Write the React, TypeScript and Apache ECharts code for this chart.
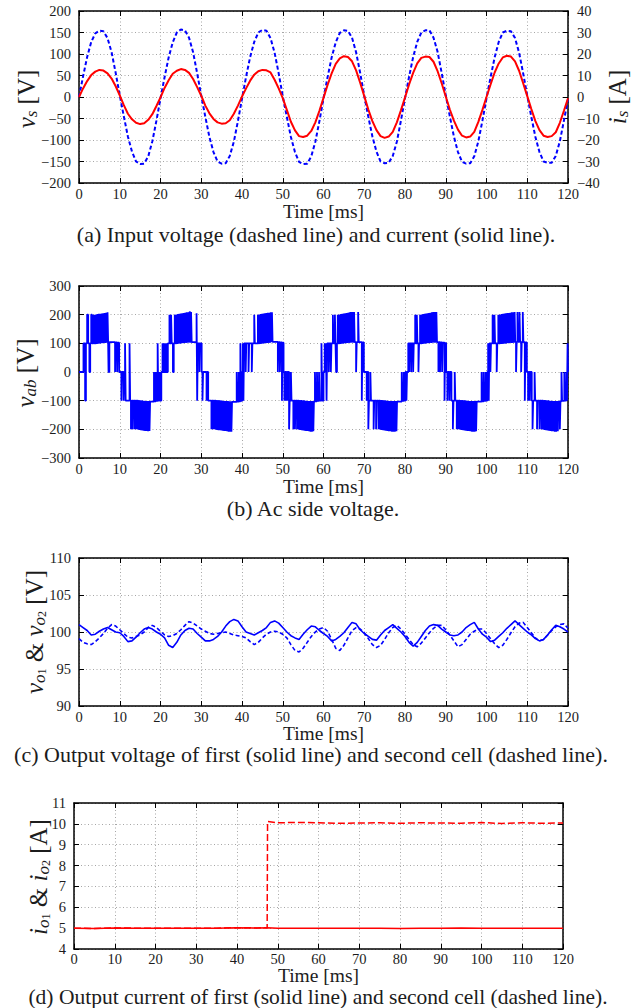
import React, { useEffect, useRef } from 'react';
import * as echarts from 'echarts';

const FONT = '"Liberation Serif", "Times New Roman", Times, serif';
const INK = '#1c1c1c';
const BLUE = '#0000ff';
const RED = '#ff0000';

// ---------- (a) input voltage [V] and current [A], sampled every 1 ms ----------
const timeA = Array.from({ length: 121 }, (_, i) => i);
const vsVolt = [
  0, 48, 93, 128, 148, 154, 153, 137, 104, 56, 4, -45, -92, -127, -150, -156, -155, -138, -103, -55,
  -3, 46, 92, 127, 150, 157, 155, 138, 104, 55, 3, -46, -93, -128, -150, -155, -154, -137, -104, -56,
  -4, 47, 93, 128, 150, 156, 154, 137, 103, 55, 2, -46, -93, -128, -151, -156, -155, -138, -104, -56,
  -3, 46, 92, 127, 149, 155, 154, 138, 104, 56, 3, -46, -92, -127, -150, -154, -153, -137, -104, -55,
  -3, 47, 93, 128, 150, 155, 155, 138, 105, 56, 4, -45, -92, -128, -151, -155, -154, -138, -103, -55,
  -3, 46, 92, 128, 150, 154, 153, 137, 103, 55, 3, -46, -93, -128, -150, -153, -153, -137, -103, -55,
  -5,
];
const isAmp = [
  0, 4.0, 7.4, 10.2, 11.8, 12.6, 12.3, 11.0, 8.6, 5.0, 0.8, -3.8, -7.8, -10.4, -12.0, -12.6, -12.2, -10.6, -8.0, -4.2,
  -0.2, 4.2, 7.8, 10.8, 12.2, 13.0, 12.6, 11.2, 8.4, 4.6, 0.6, -4.0, -7.6, -10.2, -11.8, -12.4, -12.2, -10.8, -7.8, -4.0,
  0.2, 4.0, 7.6, 10.4, 12.0, 12.6, 12.4, 11.4, 8.0, 4.0, -0.5, -6.0, -11.5, -15.5, -18.2, -18.6, -18.0, -15.8, -11.8, -6.4,
  -0.4, 5.6, 11.0, 15.4, 18.0, 19.0, 18.6, 16.6, 12.4, 6.6, 0.4, -5.8, -11.2, -15.4, -18.2, -19.0, -18.4, -16.2, -11.8, -6.2,
  -0.2, 5.8, 11.2, 15.6, 18.2, 18.8, 18.6, 16.4, 12.0, 6.4, 0.2, -5.8, -11.0, -15.2, -18.0, -18.8, -18.4, -16.2, -11.6, -6.0,
  0, 5.8, 11.4, 15.6, 18.4, 19.2, 18.8, 16.6, 12.2, 6.4, 0.4, -5.6, -11.2, -15.4, -18.0, -18.6, -18.2, -16.4, -12.0, -6.4,
  -0.6,
];

// ---------- (b) ac side voltage: switching instants [ms, V] (value holds until next instant) ----------
const vabHalf1 = [[0,0],[1.1,100],[1.5,-100],[1.7,100],[2.0,200],[2.25,100],[2.55,0],[2.75,100],[3.0,200],[3.2,100],[3.45,200],[3.6,100],[3.85,200],[4.0,100],[4.2,201],[4.35,101],[4.55,202],[4.7,102],[4.9,203],[5.05,102],[5.25,203],[5.4,103],[5.6,204],[5.75,103],[5.95,205],[6.1,104],[6.3,206],[6.45,104],[6.65,207],[6.8,105],[7.0,208],[7.15,105],[7.25,0],[7.45,104],[8.85,0],[9.0,103],[9.35,0],[9.5,102],[9.85,0]];
const vabHalf2 = [[10.4,-100],[10.55,0],[10.95,-100],[11.1,0],[11.3,100],[11.45,-100],[12.4,100],[12.55,-100],[12.75,-200],[12.9,-100],[13.2,-200],[13.35,-100],[13.7,-200],[13.85,-100],[14.15,-200],[14.3,-100],[14.5,-201],[14.65,-101],[14.85,-202],[15.0,-102],[15.2,-203],[15.35,-102],[15.55,-204],[15.7,-103],[15.9,-205],[16.05,-103],[16.25,-206],[16.4,-104],[16.6,-206],[16.75,-104],[16.95,-207],[17.1,-104],[17.3,-206],[17.45,-103],[18.4,0],[18.55,-102],[18.85,0],[19.0,-101],[19.3,100],[19.45,-100],[19.75,0],[19.9,-100],[20.2,0]];
const vabHalf3 = [[20.5,100],[20.65,0],[20.9,100],[21.05,0],[21.35,100],[21.5,0],[21.8,100],[22.2,200],[22.35,100],[22.6,200],[22.75,100],[23.05,0],[23.25,100],[23.5,200],[23.65,100],[23.9,201],[24.05,101],[24.3,202],[24.45,102],[24.65,203],[24.8,102],[25.0,204],[25.15,103],[25.35,205],[25.5,103],[25.7,206],[25.85,104],[26.05,207],[26.2,104],[26.4,208],[26.55,105],[26.75,208],[26.9,105],[27.1,209],[27.3,105],[27.5,209],[27.65,104],[28.85,205],[29.0,-100],[29.15,100],[29.55,0],[29.7,100],[30.1,0]];
const vabHalf4 = [[30.3,-100],[30.45,0],[31.3,-100],[31.45,0],[31.7,-100],[32.5,-200],[32.65,-100],[32.85,-200],[33.0,-100],[33.2,-200],[33.35,-100],[33.55,-201],[33.7,-101],[33.9,-202],[34.05,-101],[34.25,-203],[34.4,-102],[34.6,-203],[34.75,-102],[34.95,-204],[35.1,-103],[35.3,-205],[35.45,-103],[35.65,-206],[35.8,-104],[36.0,-206],[36.15,-104],[36.35,-207],[36.5,-104],[36.7,-208],[36.85,-105],[37.05,-208],[37.2,-105],[37.4,-208],[37.55,-104],[38.7,0],[38.85,-103],[39.2,0],[39.35,-102],[39.6,100],[39.75,-101],[40.0,0]];
const vabHalf5 = [[40.2,100],[40.35,-100],[40.5,100],[40.9,0],[41.05,100],[41.6,0],[41.75,100],[42.4,0],[42.55,100],[43.0,200],[43.15,100],[43.9,200],[44.05,100],[44.25,201],[44.4,101],[44.6,202],[44.75,102],[44.95,203],[45.1,102],[45.3,204],[45.45,103],[45.65,205],[45.8,103],[46.0,206],[46.15,104],[46.35,207],[46.5,104],[46.7,207],[46.85,105],[47.05,208],[47.2,105],[47.35,208],[47.5,105],[48.8,0],[48.95,104],[49.3,0],[49.45,103],[49.8,-100],[49.95,102],[50.2,0]];
const vabHalf6 = [[50.4,-100],[50.55,0],[50.8,-100],[50.95,0],[51.2,-100],[51.35,0],[51.55,-200],[51.7,-100],[52.0,0],[52.15,-100],[52.6,-200],[52.75,-100],[53.0,-200],[53.15,-100],[53.5,-200],[53.65,-100],[53.9,-201],[54.05,-101],[54.3,-202],[54.45,-101],[54.7,-203],[54.85,-102],[55.05,-204],[55.2,-102],[55.4,-205],[55.55,-103],[55.75,-206],[55.9,-103],[56.1,-206],[56.25,-104],[56.45,-207],[56.6,-104],[56.8,-208],[56.95,-104],[57.15,-208],[57.3,-104],[57.5,-207],[57.65,-103],[57.9,0],[58.05,-102],[58.4,0],[58.55,-101],[58.9,0],[59.05,-100],[59.5,100],[59.65,-100],[60.0,0]];
const vabHalf7 = [[60.3,100],[60.45,0],[60.6,100],[60.75,-100],[60.9,100],[61.3,0],[61.45,100],[61.8,0],[61.95,100],[62.3,200],[62.45,100],[62.8,200],[62.95,100],[63.1,0],[63.3,100],[63.5,200],[63.65,100],[63.9,201],[64.05,101],[64.3,202],[64.45,102],[64.65,203],[64.8,102],[65.0,204],[65.15,103],[65.35,205],[65.5,103],[65.7,206],[65.85,104],[66.05,207],[66.2,104],[66.4,208],[66.55,105],[66.75,209],[66.9,105],[67.1,209],[67.25,105],[67.5,209],[67.65,104],[68.0,0],[68.15,104],[68.5,209],[68.65,104],[69.4,-100],[69.55,103],[69.9,0]];
const vabHalf8 = [[70.6,-100],[70.75,0],[71.0,-200],[71.15,-100],[71.5,0],[71.65,-100],[72.3,-200],[72.45,-100],[72.9,-200],[73.05,-100],[73.5,-200],[73.65,-100],[73.9,-201],[74.05,-101],[74.3,-202],[74.45,-101],[74.65,-203],[74.8,-102],[75.0,-204],[75.15,-102],[75.35,-205],[75.5,-103],[75.7,-206],[75.85,-103],[76.05,-207],[76.2,-104],[76.4,-207],[76.55,-104],[76.75,-208],[76.9,-104],[77.1,-208],[77.25,-104],[77.5,-208],[77.65,-104],[77.9,-207],[78.05,-103],[79.2,0],[79.35,-101],[79.7,0],[79.85,-100],[80.1,0]];
const vabHalf9 = [[80.35,-100],[80.5,0],[80.8,100],[81.0,0],[81.15,100],[81.5,0],[81.65,100],[82.0,0],[82.15,100],[82.5,200],[82.65,100],[82.9,200],[83.05,100],[83.3,0],[83.45,100],[83.7,200],[83.85,100],[84.1,201],[84.25,101],[84.5,202],[84.65,102],[84.85,203],[85.0,102],[85.2,204],[85.35,103],[85.55,205],[85.7,103],[85.9,206],[86.05,104],[86.25,207],[86.4,104],[86.6,208],[86.75,105],[86.95,209],[87.1,105],[87.3,209],[87.45,105],[87.7,209],[87.85,104],[88.2,0],[88.35,104],[88.6,0],[88.75,103],[89.1,0],[89.25,102],[89.7,-100],[89.85,101],[90.1,0]];
const vabHalf10 = [[90.4,-100],[90.55,0],[90.9,-100],[91.05,0],[91.4,-100],[91.75,-200],[91.9,-100],[92.2,0],[92.35,-100],[92.7,-200],[92.85,-100],[93.1,-200],[93.25,-100],[93.5,-201],[93.65,-101],[93.9,-202],[94.05,-101],[94.3,-203],[94.45,-102],[94.65,-204],[94.8,-102],[95.0,-205],[95.15,-103],[95.35,-206],[95.5,-103],[95.7,-206],[95.85,-104],[96.05,-207],[96.2,-104],[96.4,-208],[96.55,-104],[96.75,-208],[96.9,-104],[97.1,-208],[97.25,-104],[97.45,-207],[97.6,-103],[98.8,0],[98.95,-102],[99.3,0],[99.45,-101],[99.8,0],[99.95,-100],[100.2,0]];
const vabHalf11 = [[100.4,100],[100.55,-100],[100.7,100],[100.95,0],[101.1,100],[101.5,200],[101.65,100],[101.95,200],[102.1,100],[102.5,0],[102.65,100],[102.9,200],[103.05,100],[103.35,201],[103.5,101],[103.75,202],[103.9,101],[104.1,203],[104.25,102],[104.45,204],[104.6,102],[104.8,205],[104.95,103],[105.15,206],[105.3,103],[105.5,206],[105.65,104],[105.85,207],[106.0,104],[106.2,208],[106.35,104],[106.55,208],[106.7,105],[106.9,209],[107.05,105],[107.25,0],[107.4,105],[107.6,209],[107.75,105],[108.1,209],[108.25,105],[108.5,0],[108.65,104],[108.9,209],[109.05,104],[109.4,-100],[109.55,103],[109.9,0]];
const vabHalf12 = [[110.2,-100],[110.35,0],[110.6,-100],[110.75,0],[111.1,-100],[111.3,-200],[111.45,-100],[111.8,0],[111.95,-100],[112.4,-200],[112.55,-100],[113.0,-200],[113.15,-100],[113.5,-200],[113.65,-100],[113.9,-201],[114.05,-101],[114.3,-202],[114.45,-101],[114.65,-203],[114.8,-102],[115.0,-204],[115.15,-102],[115.35,-205],[115.5,-103],[115.7,-206],[115.85,-103],[116.05,-207],[116.2,-104],[116.4,-207],[116.55,-104],[116.75,-208],[116.9,-104],[117.1,-208],[117.25,-104],[117.5,-207],[117.65,-103],[118.0,-200],[118.15,-102],[118.4,0],[118.55,-101],[119.1,0],[119.25,-100],[119.6,0],[119.75,-100],[119.9,100],[120,0]];

// ---------- (c) output voltages [V], sampled every 1 ms ----------
const timeC = Array.from({ length: 121 }, (_, i) => i);
const vo1 = [
  101.0, 100.6, 100.2, 99.6, 99.7, 100.1, 100.4, 100.6, 100.3, 100.0,
  99.9, 99.4, 98.7, 98.8, 99.3, 99.9, 100.4, 100.6, 100.4, 100.0,
  99.7, 99.2, 98.2, 97.9, 98.6, 99.6, 100.2, 100.5, 100.4, 99.8,
  99.3, 98.8, 98.8, 99.0, 99.4, 100.0, 100.8, 101.4, 101.7, 101.5,
  100.7, 100.0, 99.8, 99.6, 99.9, 100.2, 100.6, 101.3, 101.5, 101.2,
  100.6, 100.0, 99.5, 99.2, 99.0, 99.7, 100.3, 100.8, 100.7, 100.2,
  99.8, 99.4, 98.8, 99.0, 99.4, 99.9, 100.6, 101.3, 101.1, 100.3,
  99.8, 99.4, 99.0, 98.9, 99.6, 100.2, 100.6, 101.0, 100.5, 100.0,
  99.4, 98.6, 98.1, 98.6, 99.4, 100.2, 100.8, 101.0, 100.9, 100.4,
  100.0, 99.6, 99.5, 99.6, 100.0, 100.6, 101.0, 101.3, 100.4, 99.7,
  99.3, 98.7, 98.9, 99.4, 99.9, 100.5, 101.0, 101.5, 101.0, 100.5,
  100.0, 99.6, 99.1, 98.8, 99.0, 99.6, 100.3, 100.9, 100.7, 100.4,
  100.0,
];
const vo2 = [
  99.1, 98.6, 98.4, 98.3, 98.7, 99.2, 99.8, 100.5, 101.0, 100.8,
  100.3, 99.8, 99.3, 99.2, 99.4, 99.6, 100.0, 100.6, 100.9, 100.6,
  100.1, 99.6, 99.4, 99.5, 99.8, 100.3, 100.9, 101.4, 101.2, 100.8,
  100.4, 100.1, 99.8, 99.7, 99.8, 99.9, 100.0, 99.8, 99.6, 99.5,
  99.4, 99.2, 98.7, 98.3, 98.6, 99.2, 99.7, 100.0, 100.1, 100.0,
  99.7, 99.2, 98.3, 97.5, 97.3, 97.8, 98.6, 99.4, 100.0, 100.4,
  100.6, 100.1, 99.0, 97.8, 97.5, 98.2, 99.2, 100.2, 100.6, 100.4,
  99.9, 99.1, 98.3, 97.9, 98.2, 99.0, 99.9, 100.6, 100.9, 100.4,
  99.7, 99.0, 98.3, 98.0, 98.5, 99.2, 99.9, 100.5, 100.9, 100.9,
  100.3, 99.6, 98.8, 98.0, 98.3, 99.0, 99.7, 100.1, 100.4, 100.4,
  99.8, 99.1, 98.4, 97.9, 98.2, 99.0, 99.9, 100.7, 101.2, 101.3,
  100.6, 99.9, 99.2, 98.8, 99.0, 99.6, 100.2, 100.7, 101.0, 101.1,
  100.5,
];

// ---------- (d) output currents [A] ----------
const timeD = [0, 5, 10, 15, 20, 25, 30, 35, 40, 45, 47.4, 47.5, 50, 55, 60, 65, 70, 75, 80, 85, 90, 95, 100, 105, 110, 115, 120];
const io1 = [5.0, 4.98, 5.01, 5.0, 4.99, 5.0, 4.99, 5.0, 5.02, 5.01, 5.02, 5.03, 5.0, 4.99, 5.0, 5.0, 4.99, 5.0, 4.98, 5.0, 5.0, 5.01, 4.99, 5.0, 5.0, 4.99, 5.0];
const io2 = [5.0, 4.98, 5.01, 5.0, 4.99, 5.0, 4.99, 5.0, 5.02, 5.01, 5.02, 10.12, 10.05, 10.07, 10.05, 10.03, 10.04, 10.05, 10.03, 10.05, 10.04, 10.03, 10.06, 10.02, 10.05, 10.03, 10.04];

const captions = [
  '(a) Input voltage (dashed line) and current (solid line).',
  '(b) Ac side voltage.',
  '(c) Output voltage of first (solid line) and second cell (dashed line).',
  '(d) Output current of first (solid line) and second cell (dashed line).',
];

const zip = (xs: number[], ys: number[]) => xs.map((x, i) => [x, ys[i]]);
const minusFmt = (v: number) => (v < 0 ? '\u2212' + Math.abs(v) : String(v));

const LABEL = { color: INK, fontFamily: FONT, fontSize: 14.5 };
const AXLINE = { show: true, onZero: false, lineStyle: { color: '#000', width: 1.5 } };
const TICK = { show: true, inside: true, length: 5, lineStyle: { color: '#000', width: 1 } };
const GRIDLINE = { show: true, lineStyle: { color: '#a6a6a6', width: 1, type: [1, 2.5] as any } };

function xPair(gi: number, margin: number) {
  return [
    { type: 'value', gridIndex: gi, position: 'bottom', min: 0, max: 120, interval: 10,
      axisLine: AXLINE, axisTick: TICK, axisLabel: { ...LABEL, margin }, splitLine: GRIDLINE },
    { type: 'value', gridIndex: gi, position: 'top', min: 0, max: 120, interval: 10,
      axisLine: AXLINE, axisTick: TICK, axisLabel: { show: false }, splitLine: { show: false } },
  ];
}
function yPair(gi: number, min: number, max: number, interval: number, right?: number[]) {
  return [
    { type: 'value', gridIndex: gi, position: 'left', min, max, interval,
      axisLine: AXLINE, axisTick: TICK, axisLabel: { ...LABEL, margin: 8, formatter: minusFmt }, splitLine: GRIDLINE },
    right
      ? { type: 'value', gridIndex: gi, position: 'right', min: right[0], max: right[1], interval: right[2],
          axisLine: AXLINE, axisTick: TICK, axisLabel: { ...LABEL, margin: 9, formatter: minusFmt }, splitLine: { show: false } }
      : { type: 'value', gridIndex: gi, position: 'right', min, max, interval,
          axisLine: AXLINE, axisTick: TICK, axisLabel: { show: false }, splitLine: { show: false } },
  ];
}

const TS = 25;
const rich = {
  it: { fontFamily: FONT, fontStyle: 'italic', fontSize: TS, lineHeight: 28, fill: INK },
  n: { fontFamily: FONT, fontSize: TS, lineHeight: 28, fill: INK },
  sub: { fontFamily: FONT, fontStyle: 'italic', fontSize: 17, lineHeight: 15, verticalAlign: 'bottom', fill: INK },
  ss: { fontFamily: FONT, fontSize: 12, lineHeight: 9, verticalAlign: 'bottom', fill: INK },
};
const yTitle = (text: string, x: number, y: number) => ({
  type: 'text', x, y, rotation: Math.PI / 2, silent: true,
  style: { text, rich, align: 'center', verticalAlign: 'middle', fill: INK },
});
const plainText = (text: string, x: number, y: number, size: number) => ({
  type: 'text', x, y, silent: true,
  style: { text, fontFamily: FONT, fontSize: size, fill: INK, align: 'center', verticalAlign: 'middle' },
});

export default function App() {
  const ref = useRef<HTMLDivElement>(null);
  useEffect(() => {
    if (!ref.current) return;
    const chart = echarts.init(ref.current, undefined, { renderer: 'svg' });
    const vab = [
      ...vabHalf1, ...vabHalf2, ...vabHalf3, ...vabHalf4, ...vabHalf5, ...vabHalf6,
      ...vabHalf7, ...vabHalf8, ...vabHalf9, ...vabHalf10, ...vabHalf11, ...vabHalf12,
    ];
    const grids = [
      { left: 79, width: 489, top: 11, height: 172 },
      { left: 79, width: 489, top: 286, height: 172 },
      { left: 79, width: 489, top: 558, height: 148 },
      { left: 74, width: 489, top: 803, height: 146 },
    ].map((g) => ({ ...g, containLabel: false, outerBoundsMode: 'none', show: false }));
    const line = (x: number, y: number, data: number[][], color: string, width: number, dash?: number[], extra?: any) => ({
      type: 'line', xAxisIndex: x, yAxisIndex: y, data, showSymbol: false, symbol: 'none', silent: true,
      lineStyle: { color, width, type: dash ? (dash as any) : 'solid' }, ...extra,
    });
    chart.setOption({
      animation: false,
      backgroundColor: '#ffffff',
      grid: grids,
      xAxis: [...xPair(0, 3), ...xPair(1, 3), ...xPair(2, 3), ...xPair(3, 2)],
      yAxis: [
        ...yPair(0, -200, 200, 50, [-40, 40, 10]),
        ...yPair(1, -300, 300, 100),
        ...yPair(2, 90, 110, 5),
        ...yPair(3, 4, 11, 1),
      ],
      series: [
        line(0, 0, zip(timeA, vsVolt), BLUE, 2, [4, 2.5]),
        line(0, 1, zip(timeA, isAmp), RED, 2),
        line(2, 2, vab, BLUE, 1.8, undefined, { step: 'end' }),
        line(4, 4, zip(timeC, vo1), BLUE, 1.6),
        line(4, 4, zip(timeC, vo2), BLUE, 1.6, [4, 2.5]),
        line(6, 6, zip(timeD, io2), RED, 1.5, [7, 3]),
        line(6, 6, zip(timeD, io1), RED, 1.5),
      ],
      graphic: [
        yTitle('{it|v}{sub|s}{n| [V]}', 26, 99),
        yTitle('{it|i}{sub|s}{n| [A]}', 617, 97),
        yTitle('{it|v}{sub|ab}{n| [V]}', 25, 373),
        yTitle('{it|v}{sub|o}{ss|1}{n| & }{it|v}{sub|o}{ss|2}{n| [V]}', 34, 632),
        yTitle('{it|i}{sub|o}{ss|1}{n| & }{it|i}{sub|o}{ss|2}{n| [A]}', 38, 877),
        plainText('Time [ms]', 323.5, 211, 19.5),
        plainText('Time [ms]', 323.5, 486, 19.5),
        plainText('Time [ms]', 323.5, 733.5, 19.5),
        plainText('Time [ms]', 318.5, 975.5, 19.5),
        plainText(captions[0], 316, 234.5, 22),
        plainText(captions[1], 313, 508, 22),
        plainText(captions[2], 311, 754.5, 22),
        plainText(captions[3], 318, 997.2, 21.5),
      ],
    });
    return () => chart.dispose();
  }, []);
  return <div ref={ref} style={{ position: 'absolute', left: 0, top: 0, width: 636, height: 1008, background: '#fff' }} />;
}
